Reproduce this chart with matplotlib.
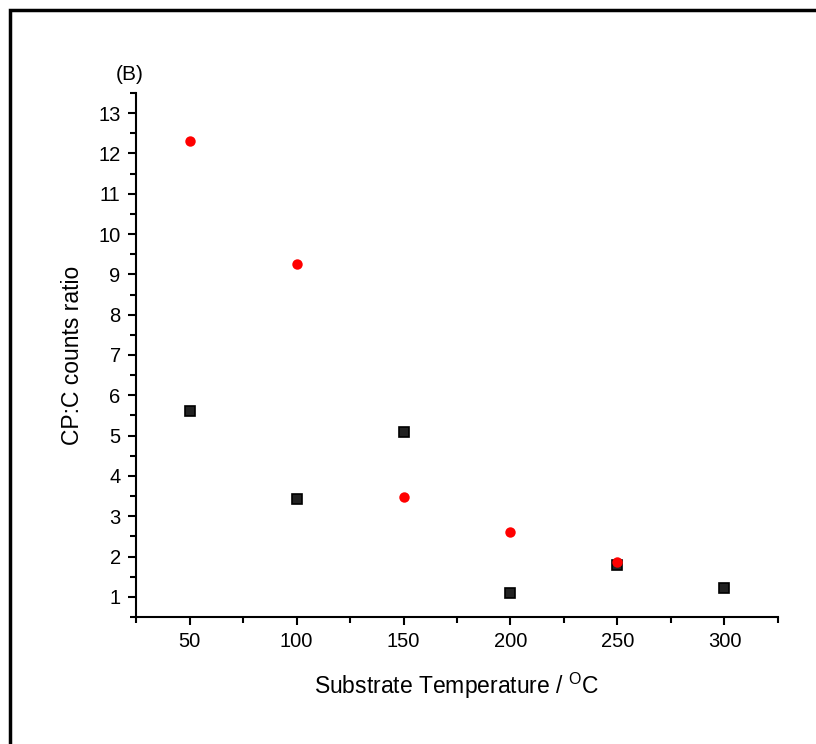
import matplotlib
matplotlib.use("Agg")
import matplotlib.pyplot as plt
from matplotlib.ticker import MultipleLocator

plt.rcParams['font.family'] = ['Liberation Sans', 'DejaVu Sans']
plt.rcParams['mathtext.fontset'] = 'custom'
plt.rcParams['mathtext.rm'] = 'Liberation Sans'

# black squares
temp_sq = [50, 100, 150, 200, 250, 300]
ratio_sq = [5.62, 3.43, 5.10, 1.10, 1.78, 1.22]

# red circles
temp_rd = [50, 100, 150, 200, 250]
ratio_rd = [12.32, 9.25, 3.47, 2.60, 1.87]

fig = plt.figure(figsize=(8.16, 7.44), dpi=100)
ax = fig.add_axes([0.1667, 0.1707, 0.7867, 0.7043])

ax.plot(temp_sq, ratio_sq, linestyle='none', marker='s', markersize=6.5,
        markerfacecolor='#222222', markeredgecolor='black', markeredgewidth=1.2)
ax.plot(temp_rd, ratio_rd, linestyle='none', marker='o', markersize=7.5,
        color='red', markeredgewidth=0)

ax.set_xlim(25, 325)
ax.set_ylim(0.5, 13.5)
ax.xaxis.set_major_locator(MultipleLocator(50))
ax.xaxis.set_minor_locator(MultipleLocator(25))
ax.yaxis.set_major_locator(MultipleLocator(1))
ax.yaxis.set_minor_locator(MultipleLocator(0.5))

for s in ['top', 'right']:
    ax.spines[s].set_visible(False)
for s in ['left', 'bottom']:
    ax.spines[s].set_linewidth(1.5)
ax.tick_params(which='major', direction='out', length=6, width=1.5, labelsize=14.5, pad=5)
ax.tick_params(which='minor', direction='out', length=4, width=1.5)

ax.set_xlabel(r'Substrate Temperature / $^{\mathregular{O}}$C', fontsize=16.5, labelpad=14)
ax.set_ylabel('CP:C counts ratio', fontsize=16.5, labelpad=10)
ax.text(-0.01, 1.035, '(B)', transform=ax.transAxes, fontsize=15, ha='center', va='center')

# outer frame
fig.add_artist(plt.Rectangle((0.0123, -0.1), 1.2, 1.0862, transform=fig.transFigure,
                             fill=False, edgecolor='black', linewidth=2.5))

fig.savefig('out.png', dpi=100)
